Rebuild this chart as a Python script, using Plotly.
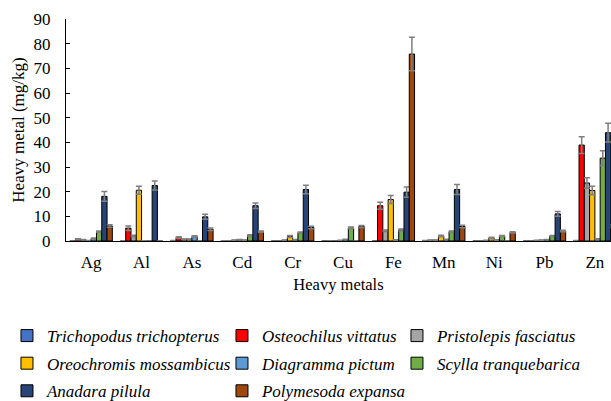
import plotly.graph_objects as go

metals = ["Ag", "Al", "As", "Cd", "Cr", "Cu", "Fe", "Mn", "Ni", "Pb", "Zn"]

species = ["Trichopodus trichopterus", "Osteochilus vittatus", "Pristolepis fasciatus",
           "Oreochromis mossambicus", "Diagramma pictum", "Scylla tranquebarica",
           "Anadara pilula", "Polymesoda expansa"]

trichopodus = [0, 0.1, 0.2, 0.1, 0, 0, 0, 0.2, 0, 0, 0.2]
osteochilus = [0.7, 5.2, 1.4, 0.1, 0, 0.1, 14.3, 0.3, 0, 0, 38.9]
pristolepis = [0.5, 2.0, 0.7, 0.3, 0.3, 0, 4.2, 0.3, 0.2, 0.2, 23.5]
oreochromis = [0.2, 20.6, 0.7, 0.5, 1.8, 0.2, 16.8, 2.0, 1.2, 0.3, 20.5]
diagramma = [1.0, 0.1, 1.8, 0.3, 0.5, 0.6, 0.4, 0.6, 0.4, 0.5, 0.7]
scylla = [3.8, 0, 0, 2.2, 3.4, 5.4, 4.5, 3.8, 2.0, 2.0, 33.6]
anadara = [18.1, 22.5, 9.8, 14.3, 20.9, 0, 19.8, 20.9, 0, 11.0, 43.9]
polymesoda = [6.1, 0, 4.8, 3.8, 5.5, 5.9, 75.8, 5.9, 3.5, 4.1, 6.0]

trichopodus_sd = [0, 0, 0, 0, 0, 0, 0, 0, 0, 0, 0]
osteochilus_sd = [0.2, 0.9, 0.3, 0, 0, 0, 1.4, 0.1, 0, 0, 3.4]
pristolepis_sd = [0.1, 0.3, 0.1, 0.1, 0.1, 0, 0.3, 0.1, 0.1, 0.1, 2.1]
oreochromis_sd = [0, 1.6, 0.1, 0.1, 0.4, 0.1, 1.6, 0.3, 0.3, 0.1, 1.7]
diagramma_sd = [0.2, 0, 0.3, 0.1, 0.1, 0.1, 0.1, 0.1, 0.1, 0.1, 0.2]
scylla_sd = [0.3, 0, 0, 0.3, 0.2, 0.3, 0.4, 0.3, 0.2, 0.2, 3.0]
anadara_sd = [2.0, 1.8, 1.0, 1.1, 1.7, 0, 2.1, 2.0, 0, 1.0, 3.8]
polymesoda_sd = [0.5, 0, 0.5, 0.3, 0.5, 0.4, 6.8, 0.5, 0.3, 0.3, 0.5]

values = [trichopodus, osteochilus, pristolepis, oreochromis, diagramma, scylla, anadara, polymesoda]
errors = [trichopodus_sd, osteochilus_sd, pristolepis_sd, oreochromis_sd, diagramma_sd,
          scylla_sd, anadara_sd, polymesoda_sd]
colors = ["#4472C4", "#FF0000", "#A5A5A5", "#FFC000", "#5B9BD5", "#70AD47", "#264478", "#9E480E"]
# excel puts the legend in 3 columns, so one plotly legend per column
legend_of = ["legend", "legend2", "legend3", "legend", "legend2", "legend3", "legend", "legend2"]

FONT = "Liberation Serif, Times New Roman, serif"

fig = go.Figure()
for i in range(len(species)):
    fig.add_trace(go.Bar(
        name=species[i], x=metals, y=values[i],
        marker=dict(color=colors[i], line=dict(color="black", width=1)),
        error_y=dict(type="data", array=errors[i], color="#7F7F7F", thickness=1.5, width=3),
        legend=legend_of[i], legendgroup=species[i],
    ))

leg = dict(orientation="v", yanchor="top", y=-0.347, bgcolor="rgba(0,0,0,0)",
           font=dict(family=FONT, size=17, style="italic", color="black"),
           tracegroupgap=2.5, itemclick=False)

fig.update_layout(
    width=611, height=401,
    margin=dict(l=66, r=0, t=19, b=160, autoexpand=False),
    paper_bgcolor="white", plot_bgcolor="white",
    font=dict(family=FONT, size=17, color="black"),
    barmode="group", bargap=0.16, bargroupgap=0,
    legend=dict(leg, x=-0.1083, xanchor="left"),
    legend2=dict(leg, x=0.2862, xanchor="left"),
    legend3=dict(leg, x=0.6073, xanchor="left"),
)
# the original picture is cropped on the right, through the Zn group
fig.update_xaxes(range=[-0.5, 10.32], showline=True, linecolor="black", linewidth=1,
                 ticks="", ticklabelstandoff=6,
                 title=dict(text="Heavy metals", standoff=7, font=dict(family=FONT, size=16.5)),
                 tickfont=dict(family=FONT, size=17))
fig.update_yaxes(range=[0, 90], dtick=10, showline=True, linecolor="black", linewidth=1,
                 ticks="inside", ticklen=4, tickcolor="black", showgrid=False, zeroline=False,
                 ticklabelstandoff=11,
                 title=dict(text="Heavy metal (mg/kg)", standoff=4, font=dict(family=FONT, size=17)),
                 tickfont=dict(family=FONT, size=17))

# drop the default 8px page margin so the figure fills the window exactly
fig.write_html("out.html", config={"displayModeBar": False},
               post_script="document.body.style.margin='0';")
